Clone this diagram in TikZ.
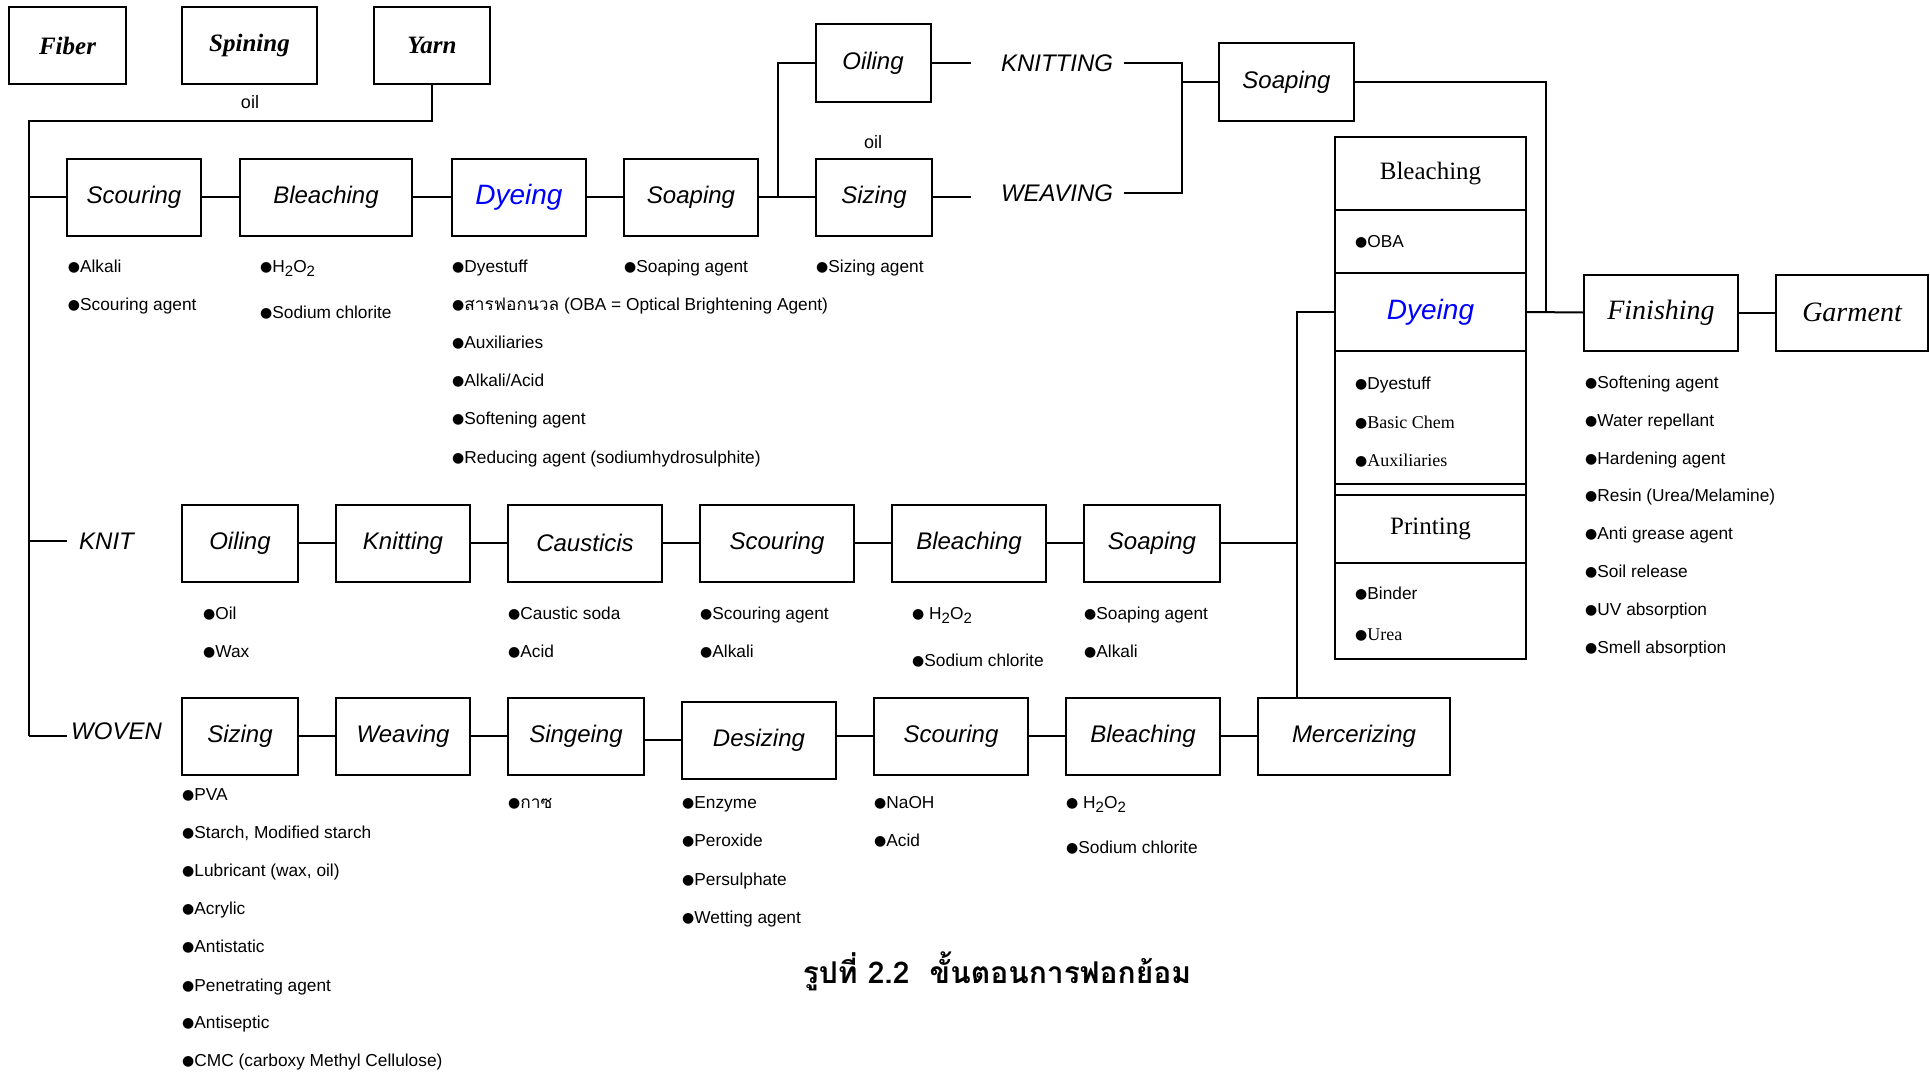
\documentclass[tikz,border=0pt]{standalone}
\usepackage{fontspec}
\setmainfont{Liberation Sans}
\newfontfamily\serifface{Liberation Serif}
\newfontfamily\symface{DejaVu Sans}
\newfontfamily\thaiface[Script=Thai]{Loma}
\usetikzlibrary{calc}

% font size helper (1pt = 1 output pixel)
\newcommand\fs[1]{\fontsize{#1}{#1}\selectfont}
% lowered, near full-size subscript digit
\newcommand\lowdig[1]{\raisebox{-4pt}{\fs{15}#1}}
% list bullet
\newcommand\bul{{\symface\fs{14}\raisebox{1pt}{●}}}
% one bullet line of a chemicals list
\newcommand\itm[3]{\node[item] (#1) at (#2) {\bul#3};}

\tikzset{
  ln/.style={line width=2pt},
  box/.style={draw, line width=2pt, inner sep=0pt, minimum height=77pt, font=\fs{24}\itshape},
  tbox/.style={draw, line width=2pt, inner sep=0pt, minimum height=77pt, font=\fs{25}\serifface\bfseries\itshape},
  sect/.style={draw, line width=2pt, inner sep=0pt, minimum width=191pt},
  item/.style={anchor=base west, inner sep=0pt, font=\fs{17.3}},
  sitem/.style={anchor=base west, inner sep=0pt, font=\fs{18}\serifface},
  lbl/.style={inner ysep=0pt, font=\fs{24}\itshape},
  small/.style={inner sep=0pt, font=\fs{18}},
}

\begin{document}
\begin{tikzpicture}[x=1pt,y=-1pt]
\useasboundingbox (0,0) rectangle (1930,1073);
\fill[white] (0,0) rectangle (1930,1073);

% ---------- fibre to yarn ----------
\node[tbox, minimum width=117pt] (fiber) at (67.5,45.5) {Fiber};
\node[tbox, minimum width=135pt] (spin) at (249.5,45.5) {Spining};
\node[tbox, minimum width=116pt] (yarn) at (432,45.5) {Yarn};
\node[small] (oilA) at (250,102) {oil};

\coordinate (tTop) at (29,121);
\coordinate (tBot) at (29,736);
\draw[ln] (yarn.south) |- (tTop) -- (tBot);

% ---------- yarn dyeing line ----------
\node[box, minimum width=134pt] (sc1) at (134,197) {Scouring};
\node[box, minimum width=172pt] (bl1) at (326,197) {Bleaching};
\node[box, minimum width=134pt, font=\fs{28}\itshape, text=blue] (dy1) at (519,197) {Dyeing};
\node[box, minimum width=134pt] (so1) at (691,197) {Soaping};
\node[box, minimum width=116pt] (sz1) at (874,197) {Sizing};
\node[box, minimum width=115pt] (oi1) at (873,63) {Oiling};
\node[small] (oilB) at (873,142) {oil};

\draw[ln] (sc1.west -| tTop) -- (sc1.west);
\draw[ln] (sc1) -- (bl1);
\draw[ln] (bl1) -- (dy1);
\draw[ln] (dy1) -- (so1);
\coordinate (j1) at (778,197);
\draw[ln] (so1.east) -- (j1) -- (sz1.west);
\draw[ln] (j1) |- (oi1.west);
\coordinate (oiEnd) at (971,63);
\coordinate (szEnd) at (971,197);
\draw[ln] (oi1.east) -- (oiEnd);
\draw[ln] (sz1.east) -- (szEnd);

\node[lbl, inner xsep=11pt] (knitting) at (1057,63) {KNITTING};
\node[lbl, inner xsep=11pt] (weaving) at (1057,193) {WEAVING};
\node[box, minimum width=135pt] (so2) at (1286.5,82) {Soaping};
\coordinate (j2) at (1182,82);
\draw[ln] (knitting.east) -| (j2) |- (weaving.east);
\draw[ln] (j2) -- (so2.west);

% ---------- bleaching / dyeing / printing stack ----------
\node[sect, minimum height=73pt, font=\fs{25}\serifface] (stBl) at (1430.5,173.5) {Bleaching};
\node[sect, minimum height=63pt] (stOba) at (1430.5,241.5) {};
\node[sect, minimum height=78pt, font=\fs{28}\itshape, text=blue] (stDy) at (1430.5,312) {Dyeing};
\node[sect, minimum height=133pt] (stDyL) at (1430.5,417.5) {};
\node[sect, minimum height=11pt] (stGap) at (1430.5,489.5) {};
\node[sect, minimum height=68pt, font=\fs{25}\serifface] (stPr) at (1430.5,529) {Printing};
\node[sect, minimum height=96pt] (stPrL) at (1430.5,611) {};

\itm{oba}{1355,247}{OBA}
\itm{sDye}{1355,389}{Dyestuff}
\node[sitem] (sBasic) at (1355,428) {\bul Basic Chem};
\node[sitem] (sAux) at (1355,466) {\bul Auxiliaries};
\itm{sBind}{1355,599}{Binder}
\node[sitem] (sUrea) at (1355,640) {\bul Urea};

% ---------- finishing ----------
\node[box, minimum width=154pt, minimum height=76pt, font=\fs{28}\serifface\itshape] (fin) at (1661,312.5) {Finishing};
\node[box, minimum width=152pt, minimum height=76pt, font=\fs{28}\serifface\itshape] (garm) at (1852,312.5) {Garment};
\coordinate (j3) at (1546,312);
\draw[ln] (so2.east) -| (j3);
\draw[ln] (stDy.east) -- (fin.west);
\draw[ln] (fin) -- (garm);

% ---------- knit line ----------
\node[lbl, anchor=west, inner xsep=12pt] (knit) at (67,541) {KNIT};
\draw[ln] (knit.west -| tTop) -- (knit.west);
\node[box, minimum width=116pt] (ko) at (240,543) {Oiling};
\node[box, minimum width=134pt] (kk) at (403,543) {Knitting};
\node[box, minimum width=154pt] (kc) at (585,543) {Causticis};
\node[box, minimum width=154pt] (ks) at (777,543) {Scouring};
\node[box, minimum width=154pt] (kb) at (969,543) {Bleaching};
\node[box, minimum width=136pt] (kso) at (1152,543) {Soaping};
\draw[ln] (ko) -- (kk);
\draw[ln] (kk) -- (kc);
\draw[ln] (kc) -- (ks);
\draw[ln] (ks) -- (kb);
\draw[ln] (kb) -- (kso);

% ---------- woven line ----------
\node[lbl, anchor=west, inner xsep=4pt] (woven) at (67,731) {WOVEN};
\draw[ln] (tBot) -- (tBot -| woven.west);
\node[box, minimum width=116pt] (ws) at (240,736) {Sizing};
\node[box, minimum width=134pt] (ww) at (403,736) {Weaving};
\node[box, minimum width=136pt] (wsi) at (576,736) {Singeing};
\node[box, minimum width=154pt] (wd) at (759,740) {Desizing};
\node[box, minimum width=154pt] (wsc) at (951,736) {Scouring};
\node[box, minimum width=154pt] (wb) at (1143,736) {Bleaching};
\node[box, minimum width=192pt] (merc) at (1354,736) {Mercerizing};
\draw[ln] (ws) -- (ww);
\draw[ln] (ww) -- (wsi);
\draw[ln] (wsi.east |- wd.west) -- (wd.west);
\draw[ln] (wd.east |- wsc.west) -- (wsc.west);
\draw[ln] (wsc) -- (wb);
\draw[ln] (wb) -- (merc);

\coordinate (j4) at (1297,312);
\draw[ln] (stDy.west) -- (j4) -- (j4 |- merc.north);
\draw[ln] (kso.east) -- (kso.east -| j4);

% ---------- chemicals: yarn line ----------
\itm{a1}{67.7,272}{Alkali}
\itm{a2}{67.7,310}{Scouring agent}
\itm{b1}{260,272}{H\lowdig{2}O\lowdig{2}}
\itm{b2}{260,318}{Sodium chlorite}
\itm{c1}{452,272}{Dyestuff}
\itm{c2}{452,310}{{\thaiface สารฟอกนวล} (OBA = Optical Brightening Agent)}
\itm{c3}{452,348}{Auxiliaries}
\itm{c4}{452,386}{Alkali/Acid}
\itm{c5}{452,424}{Softening agent}
\itm{c6}{452,463}{Reducing agent (sodiumhydrosulphite)}
\itm{d1}{624,272}{Soaping agent}
\itm{e1}{816,272}{Sizing agent}

% ---------- chemicals: knit line ----------
\itm{k1}{203,619}{Oil}
\itm{k2}{203,657}{Wax}
\itm{k3}{508,619}{Caustic soda}
\itm{k4}{508,657}{Acid}
\itm{k5}{700,619}{Scouring agent}
\itm{k6}{700,657}{Alkali}
\itm{k7}{912,619}{ H\lowdig{2}O\lowdig{2}}
\itm{k8}{912,666}{Sodium chlorite}
\itm{k9}{1084,619}{Soaping agent}
\itm{k10}{1084,657}{Alkali}

% ---------- chemicals: woven line ----------
\itm{w1}{182,800}{PVA}
\itm{w2}{182,838}{Starch, Modified starch}
\itm{w3}{182,876}{Lubricant (wax, oil)}
\itm{w4}{182,914}{Acrylic}
\itm{w5}{182,952}{Antistatic}
\itm{w6}{182,991}{Penetrating agent}
\itm{w7}{182,1028}{Antiseptic}
\itm{w8}{182,1066}{CMC (carboxy Methyl Cellulose)}
\itm{w9}{508,808}{{\thaiface กาซ}}
\itm{w10}{682,808}{Enzyme}
\itm{w11}{682,846}{Peroxide}
\itm{w12}{682,885}{Persulphate}
\itm{w13}{682,923}{Wetting agent}
\itm{w14}{874,808}{NaOH}
\itm{w15}{874,846}{Acid}
\itm{w16}{1066,808}{ H\lowdig{2}O\lowdig{2}}
\itm{w17}{1066,853}{Sodium chlorite}

% ---------- finishing agents ----------
\itm{f1}{1585,388}{Softening agent}
\itm{f2}{1585,426}{Water repellant}
\itm{f3}{1585,464}{Hardening agent}
\itm{f4}{1585,501}{Resin (Urea/Melamine)}
\itm{f5}{1585,539}{Anti grease agent}
\itm{f6}{1585,577}{Soil release}
\itm{f7}{1585,615}{UV absorption}
\itm{f8}{1585,653}{Smell absorption}

% ---------- caption ----------
\node[inner sep=0pt, font=\thaiface\bfseries\fs{30}] (cap) at (997,971) {รูปที่ 2.2\ \ ขั้นตอนการฟอกย้อม};
\end{tikzpicture}
\end{document}
